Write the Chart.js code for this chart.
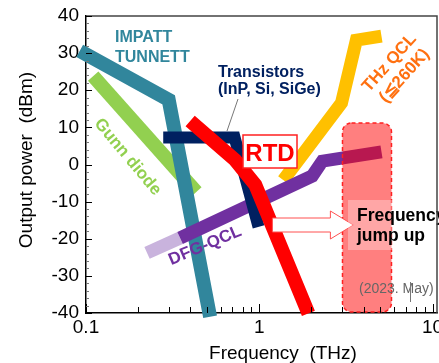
<!DOCTYPE html>
<html>
<head>
<meta charset="utf-8">
<script src="https://cdn.jsdelivr.net/npm/chart.js@4.4.0/dist/chart.umd.min.js"></script>
<style>
  html, body { margin: 0; padding: 0; background: #fff; overflow: hidden; }
</style>
</head>
<body>
<canvas id="chart" width="439" height="363"></canvas>
<script>
// THz sources: frequency (THz) vs output power (dBm)
var impattFreq = [0.092, 0.30, 0.52];
var impattPower = [30.6, 17.4, -41];
var gunnFreq = [0.11, 0.433];
var gunnPower = [23.8, -7.4];
var transFreq = [0.279, 0.72, 0.99];
var transPower = [7.3, 7.3, -16.8];
var rtdFreq = [0.399, 0.726, 0.948, 1.92];
var rtdPower = [11.7, 1.2, -5.5, -40.1];
var qclFreq = [1.376, 2.98, 3.63, 5.07];
var qclPower = [-4.2, 16.6, 33.5, 34.6];
var dfgOldFreq = [0.225, 0.349];
var dfgOldPower = [-23.8, -19.8];
var dfgFreq = [0.349, 2.02, 2.31, 5.07];
var dfgPower = [-19.8, -3.1, 0.9, 3.4];

// target zone and arrow (data units)
var jumpFreq = [3.02, 5.79];
var jumpPower = [-39.7, 11.2];
var arrowFreq = [1.19, 3.49];
var arrowPower = -16.3;

var xTicks = [0.1, 1, 10];
var yTicks = [-40, -30, -20, -10, 0, 10, 20, 30, 40];

function points(xs, ys) {
    return xs.map(function(x, i) { return { x: x, y: ys[i] }; });
}

function line(label, xs, ys, color, width) {
    return {
        label: label,
        data: points(xs, ys),
        borderColor: color,
        borderWidth: width,
        pointRadius: 0,
        fill: false,
        tension: 0,
        clip: false
    };
}

// top-most first
var datasets = [
    line('RTD', rtdFreq, rtdPower, '#ff0000', 14),
    line('Transistors', transFreq, transPower, '#002060', 12),
    line('DFG-QCL', dfgFreq, dfgPower, '#7030a0', 13),
    line('DFG-QCL (early)', dfgOldFreq, dfgOldPower, '#c9b3dd', 13),
    line('THz QCL', qclFreq, qclPower, '#ffc000', 13),
    line('IMPATT/TUNNETT', impattFreq, impattPower, '#31869c', 14),
    line('Gunn diode', gunnFreq, gunnPower, '#92d050', 14)
];

var sans = '"Liberation Sans", Arial, sans-serif';

function text(ctx, str, x, y, font, color, angle, align) {
    ctx.save();
    ctx.translate(x, y);
    if (angle) ctx.rotate(angle * Math.PI / 180);
    ctx.font = font;
    ctx.fillStyle = color;
    ctx.textAlign = align || 'left';
    ctx.textBaseline = 'alphabetic';
    ctx.fillText(str, 0, 0);
    ctx.restore();
}

var extras = {
    id: 'extras',
    afterDatasetsDraw: function(chart) {
        var ctx = chart.ctx;
        var xs = chart.scales.x, ys = chart.scales.y;

        // frequency jump zone
        var bx0 = xs.getPixelForValue(jumpFreq[0]), bx1 = xs.getPixelForValue(jumpFreq[1]);
        var by0 = ys.getPixelForValue(jumpPower[1]), by1 = ys.getPixelForValue(jumpPower[0]);
        ctx.save();
        ctx.beginPath();
        ctx.roundRect(bx0, by0, bx1 - bx0, by1 - by0, 9);
        ctx.fillStyle = 'rgba(255,0,0,0.5)';
        ctx.fill();
        ctx.setLineDash([4, 3]);
        ctx.strokeStyle = '#ff2020';
        ctx.lineWidth = 1.5;
        ctx.stroke();
        ctx.restore();

        // arrow
        var ax0 = xs.getPixelForValue(arrowFreq[0]), ax1 = xs.getPixelForValue(arrowFreq[1]);
        var ay = ys.getPixelForValue(arrowPower);
        var head = 23;
        ctx.save();
        ctx.beginPath();
        ctx.moveTo(ax0, ay - 7);
        ctx.lineTo(ax1 - head, ay - 7);
        ctx.lineTo(ax1 - head, ay - 14);
        ctx.lineTo(ax1, ay);
        ctx.lineTo(ax1 - head, ay + 14);
        ctx.lineTo(ax1 - head, ay + 7);
        ctx.lineTo(ax0, ay + 7);
        ctx.closePath();
        ctx.fillStyle = '#fff';
        ctx.fill();
        ctx.strokeStyle = '#ff5050';
        ctx.lineWidth = 1;
        ctx.stroke();
        ctx.restore();

        // "Frequency jump up" note
        ctx.fillStyle = 'rgba(255,255,255,0.3)';
        ctx.fillRect(348, 200, 91, 50);
        text(ctx, 'Frequency', 357, 221, 'bold 17.5px ' + sans, '#000');
        text(ctx, 'jump up', 357, 241, 'bold 17.5px ' + sans, '#000');
        text(ctx, '(2023. May)', 359, 293, '14px ' + sans, '#666');
        ctx.save();
        ctx.strokeStyle = '#777';
        ctx.lineWidth = 1;
        ctx.beginPath();
        ctx.moveTo(410.5, 282);
        ctx.lineTo(410.5, 302);
        ctx.stroke();
        ctx.restore();

        // RTD tag
        ctx.save();
        ctx.fillStyle = '#fff';
        ctx.fillRect(243, 135, 54, 33);
        ctx.strokeStyle = '#ff2020';
        ctx.lineWidth = 1.5;
        ctx.strokeRect(243, 135, 54, 33);
        ctx.restore();
        text(ctx, 'RTD', 270, 161, 'bold 24px ' + sans, '#ff0000', 0, 'center');

        // source labels
        var bold = 'bold 16px ' + sans;
        text(ctx, 'IMPATT', 115, 42, bold, '#31869c');
        text(ctx, 'TUNNETT', 115, 62, bold, '#31869c');
        text(ctx, 'Transistors', 218, 77, bold, '#002060');
        text(ctx, '(InP, Si, SiGe)', 218, 94, bold, '#002060');
        ctx.save();
        ctx.strokeStyle = '#777';
        ctx.lineWidth = 1;
        ctx.beginPath();
        ctx.moveTo(238, 99);
        ctx.lineTo(227, 131);
        ctx.stroke();
        ctx.restore();
        text(ctx, 'Gunn diode', 124, 160, 'bold 17px ' + sans, '#92d050', 50, 'center');
        text(ctx, 'DFG-QCL', 207, 250, 'bold 17px ' + sans, '#7030a0', -23, 'center');
        text(ctx, 'THz QCL', 393, 66, 'bold 17px ' + sans, '#ff7010', -48, 'center');
        text(ctx, '(\u2266260K)', 408, 79, 'bold 17px ' + sans, '#ff7010', -48, 'center');
    },
    afterDraw: function(chart) {
        var ctx = chart.ctx;
        var a = chart.chartArea;
        var xs = chart.scales.x, ys = chart.scales.y;
        ctx.save();

        // frame top and right
        ctx.strokeStyle = '#444';
        ctx.lineWidth = 1.5;
        ctx.beginPath();
        ctx.moveTo(a.left, a.top);
        ctx.lineTo(a.right, a.top);
        ctx.lineTo(a.right, a.bottom);
        ctx.stroke();

        // inward ticks on the x axis
        ctx.strokeStyle = '#000';
        ctx.lineWidth = 1;
        [0.1, 1].forEach(function(d) {
            for (var m = 1; m <= 10; m++) {
                var v = m * d;
                if (v > xs.max) break;
                var px = Math.round(xs.getPixelForValue(v)) + 0.5;
                var len = (m === 1 || m === 10) ? 9 : 6;
                ctx.beginPath();
                ctx.moveTo(px, a.bottom);
                ctx.lineTo(px, a.bottom - len);
                ctx.stroke();
            }
        });

        // inward ticks on the y axis
        for (var v = -40; v <= 40; v += 2) {
            var py = Math.round(ys.getPixelForValue(v)) + 0.5;
            var major = v % 10 === 0;
            ctx.strokeStyle = major ? '#000' : '#777';
            ctx.beginPath();
            ctx.moveTo(a.left, py);
            ctx.lineTo(a.left + (major ? 6 : 3), py);
            ctx.stroke();
        }

        // axis titles
        text(ctx, 'Frequency  (THz)', 283, 359, '19px ' + sans, '#000', 0, 'center');
        text(ctx, 'Output power  (dBm)', 32, 160, '19px ' + sans, '#000', -90, 'center');
        ctx.restore();
    }
};

new Chart(document.getElementById('chart'), {
    type: 'line',
    data: { datasets: datasets },
    options: {
        responsive: false,
        devicePixelRatio: 1,
        animation: false,
        events: [],
        layout: { padding: { top: 16, right: 2, left: 0, bottom: 0 } },
        plugins: {
            legend: { display: false },
            tooltip: { enabled: false }
        },
        scales: {
            x: {
                type: 'logarithmic',
                min: 0.1,
                max: 10.6,
                grid: { display: false, drawTicks: false },
                border: { display: true, color: '#000', width: 1.5 },
                afterBuildTicks: function(s) {
                    s.ticks = xTicks.map(function(v) { return { value: v }; });
                },
                afterFit: function(s) {
                    s.height = 50;
                    s.paddingLeft = 0;
                    s.paddingRight = 0;
                },
                ticks: {
                    autoSkip: false,
                    maxRotation: 0,
                    padding: 3,
                    color: '#000',
                    font: { family: sans, size: 19 },
                    callback: function(v) { return String(v); }
                }
            },
            y: {
                type: 'linear',
                min: -40,
                max: 40,
                grid: { display: false, drawTicks: false },
                border: { display: true, color: '#000', width: 1.5 },
                afterBuildTicks: function(s) {
                    s.ticks = yTicks.map(function(v) { return { value: v }; });
                },
                afterFit: function(s) {
                    s.width = 86;
                    s.paddingTop = 0;
                    s.paddingBottom = 0;
                },
                ticks: {
                    padding: 7,
                    color: '#000',
                    font: { family: sans, size: 19 }
                }
            }
        }
    },
    plugins: [extras]
});
</script>
</body>
</html>
